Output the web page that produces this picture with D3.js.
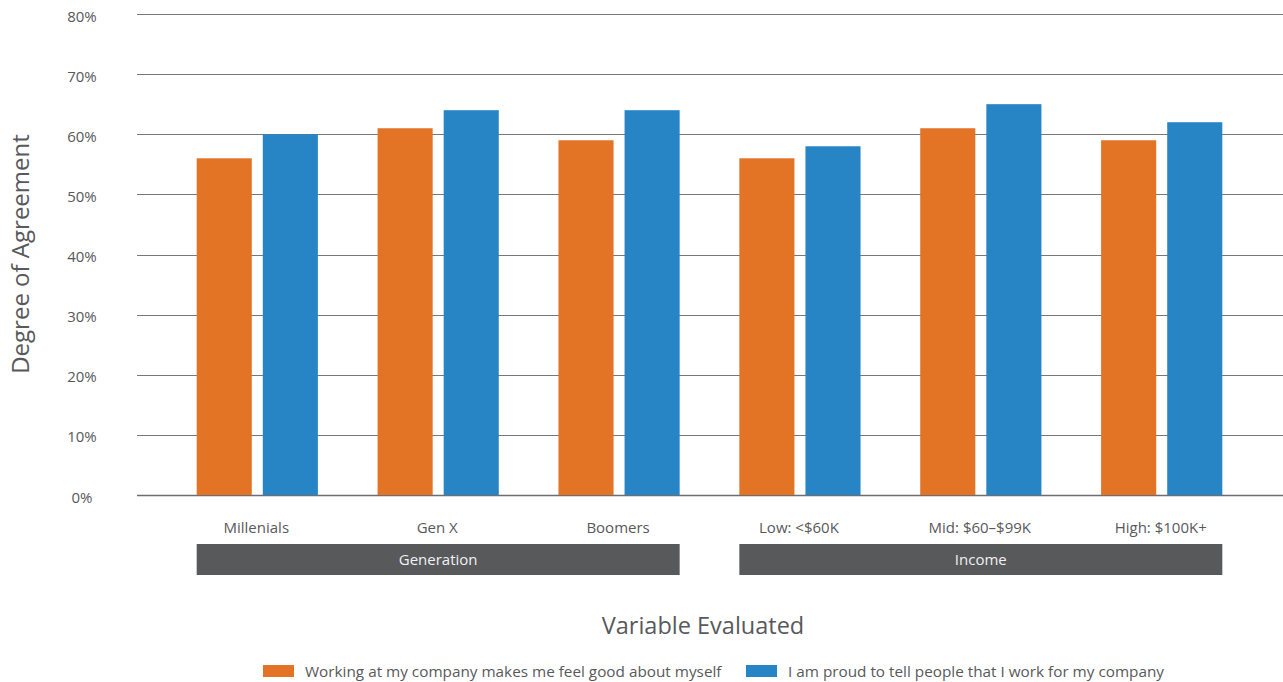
<!DOCTYPE html>
<html>
<head>
<meta charset="utf-8">
<script src="https://cdn.jsdelivr.net/npm/d3@7"></script>
<style>
  html, body { margin: 0; padding: 0; background: #fff; }
  svg { display: block; }
  text { font-family: "Open Sans", "Noto Sans", sans-serif; }
</style>
</head>
<body>
<svg id="chart" width="1283" height="682"></svg>
<script>
// Survey results by generation and income bracket
const categories = ["Millenials", "Gen X", "Boomers", "Low: <$60K", "Mid: $60\u2013$99K", "High: $100K+"];
const seriesNames = [
  "Working at my company makes me feel good about myself",
  "I am proud to tell people that I work for my company"
];
const feelGood = [56, 61, 59, 56, 61, 59];
const proud = [60, 64, 64, 58, 65, 62];
const groups = [
  { name: "Generation", members: ["Millenials", "Gen X", "Boomers"] },
  { name: "Income", members: ["Low: <$60K", "Mid: $60\u2013$99K", "High: $100K+"] }
];
const yTicks = [0, 10, 20, 30, 40, 50, 60, 70, 80];

const colors = ["#e37325", "#2784c5"];
const svg = d3.select("#chart");

const plot = { left: 137, right: 1283, top: 14, bottom: 495 };

const x0 = d3.scaleBand()
  .domain(categories)
  .range([plot.left, plot.right - 1])
  .paddingInner(0.33)
  .paddingOuter(0.33);

const x1 = d3.scaleBand()
  .domain([0, 1])
  .range([0, x0.bandwidth()])
  .paddingInner(1 / 6);

const y = d3.scaleLinear().domain([0, 80]).range([plot.bottom, plot.top]);

// Gridlines
svg.append("g")
  .selectAll("line")
  .data(yTicks)
  .join("line")
  .attr("x1", plot.left)
  .attr("x2", plot.right)
  .attr("y1", d => Math.round(y(d)) + 0.5)
  .attr("y2", d => Math.round(y(d)) + 0.5)
  .attr("stroke", d => d === 0 ? "#6d6e71" : "#77787b")
  .attr("stroke-width", d => d === 0 ? 1.6 : 1);

// Y tick labels
svg.append("g")
  .selectAll("text")
  .data(yTicks)
  .join("text")
  .attr("x", 82)
  .attr("y", d => y(d) + 7.5)
  .attr("text-anchor", "middle")
  .attr("font-size", 15)
  .attr("fill", "#58595b")
  .text(d => d + "%");

// Bars
const rows = categories.map((c, i) => ({ cat: c, values: [feelGood[i], proud[i]] }));
const barG = svg.append("g")
  .selectAll("g")
  .data(rows)
  .join("g")
  .attr("transform", d => `translate(${x0(d.cat)},0)`);

barG.selectAll("rect")
  .data(d => d.values.map((v, k) => ({ k, v })))
  .join("rect")
  .attr("x", d => x1(d.k))
  .attr("width", x1.bandwidth())
  .attr("y", d => y(d.v))
  .attr("height", d => y(0) - y(d.v))
  .attr("fill", d => colors[d.k]);

// Category labels
svg.append("g")
  .selectAll("text")
  .data(categories)
  .join("text")
  .attr("x", d => x0(d) + x0.bandwidth() / 2 - 1)
  .attr("y", 532.5)
  .attr("text-anchor", "middle")
  .attr("font-size", 15)
  .attr("fill", "#58595b")
  .text(d => d);

// Group bands
const groupG = svg.append("g")
  .selectAll("g")
  .data(groups)
  .join("g");

groupG.append("rect")
  .attr("x", d => x0(d.members[0]))
  .attr("width", d => x0(d.members[d.members.length - 1]) + x0.bandwidth() - x0(d.members[0]))
  .attr("y", 544)
  .attr("height", 31)
  .attr("fill", "#58595b");

groupG.append("text")
  .attr("x", d => (x0(d.members[0]) + x0(d.members[d.members.length - 1]) + x0.bandwidth()) / 2)
  .attr("y", 564.5)
  .attr("text-anchor", "middle")
  .attr("font-size", 15)
  .attr("fill", "#f1f1f2")
  .text(d => d.name);

// Axis titles
svg.append("text")
  .attr("x", 703)
  .attr("y", 634)
  .attr("text-anchor", "middle")
  .attr("font-size", 23.5)
  .attr("fill", "#58595b")
  .text("Variable Evaluated");

svg.append("text")
  .attr("transform", "translate(29,254) rotate(-90)")
  .attr("text-anchor", "middle")
  .attr("font-size", 24)
  .attr("fill", "#58595b")
  .text("Degree of Agreement");

// Legend
const legendItems = [
  { name: seriesNames[0], color: colors[0], x: 263 },
  { name: seriesNames[1], color: colors[1], x: 746 }
];
const lg = svg.append("g")
  .selectAll("g")
  .data(legendItems)
  .join("g")
  .attr("transform", d => `translate(${d.x},0)`);

lg.append("rect")
  .attr("x", 0)
  .attr("y", 665)
  .attr("width", 31)
  .attr("height", 12)
  .attr("fill", d => d.color);

lg.append("text")
  .attr("x", 42)
  .attr("y", 676.5)
  .attr("font-size", 15.3)
  .attr("fill", "#58595b")
  .text(d => d.name);
</script>
</body>
</html>
